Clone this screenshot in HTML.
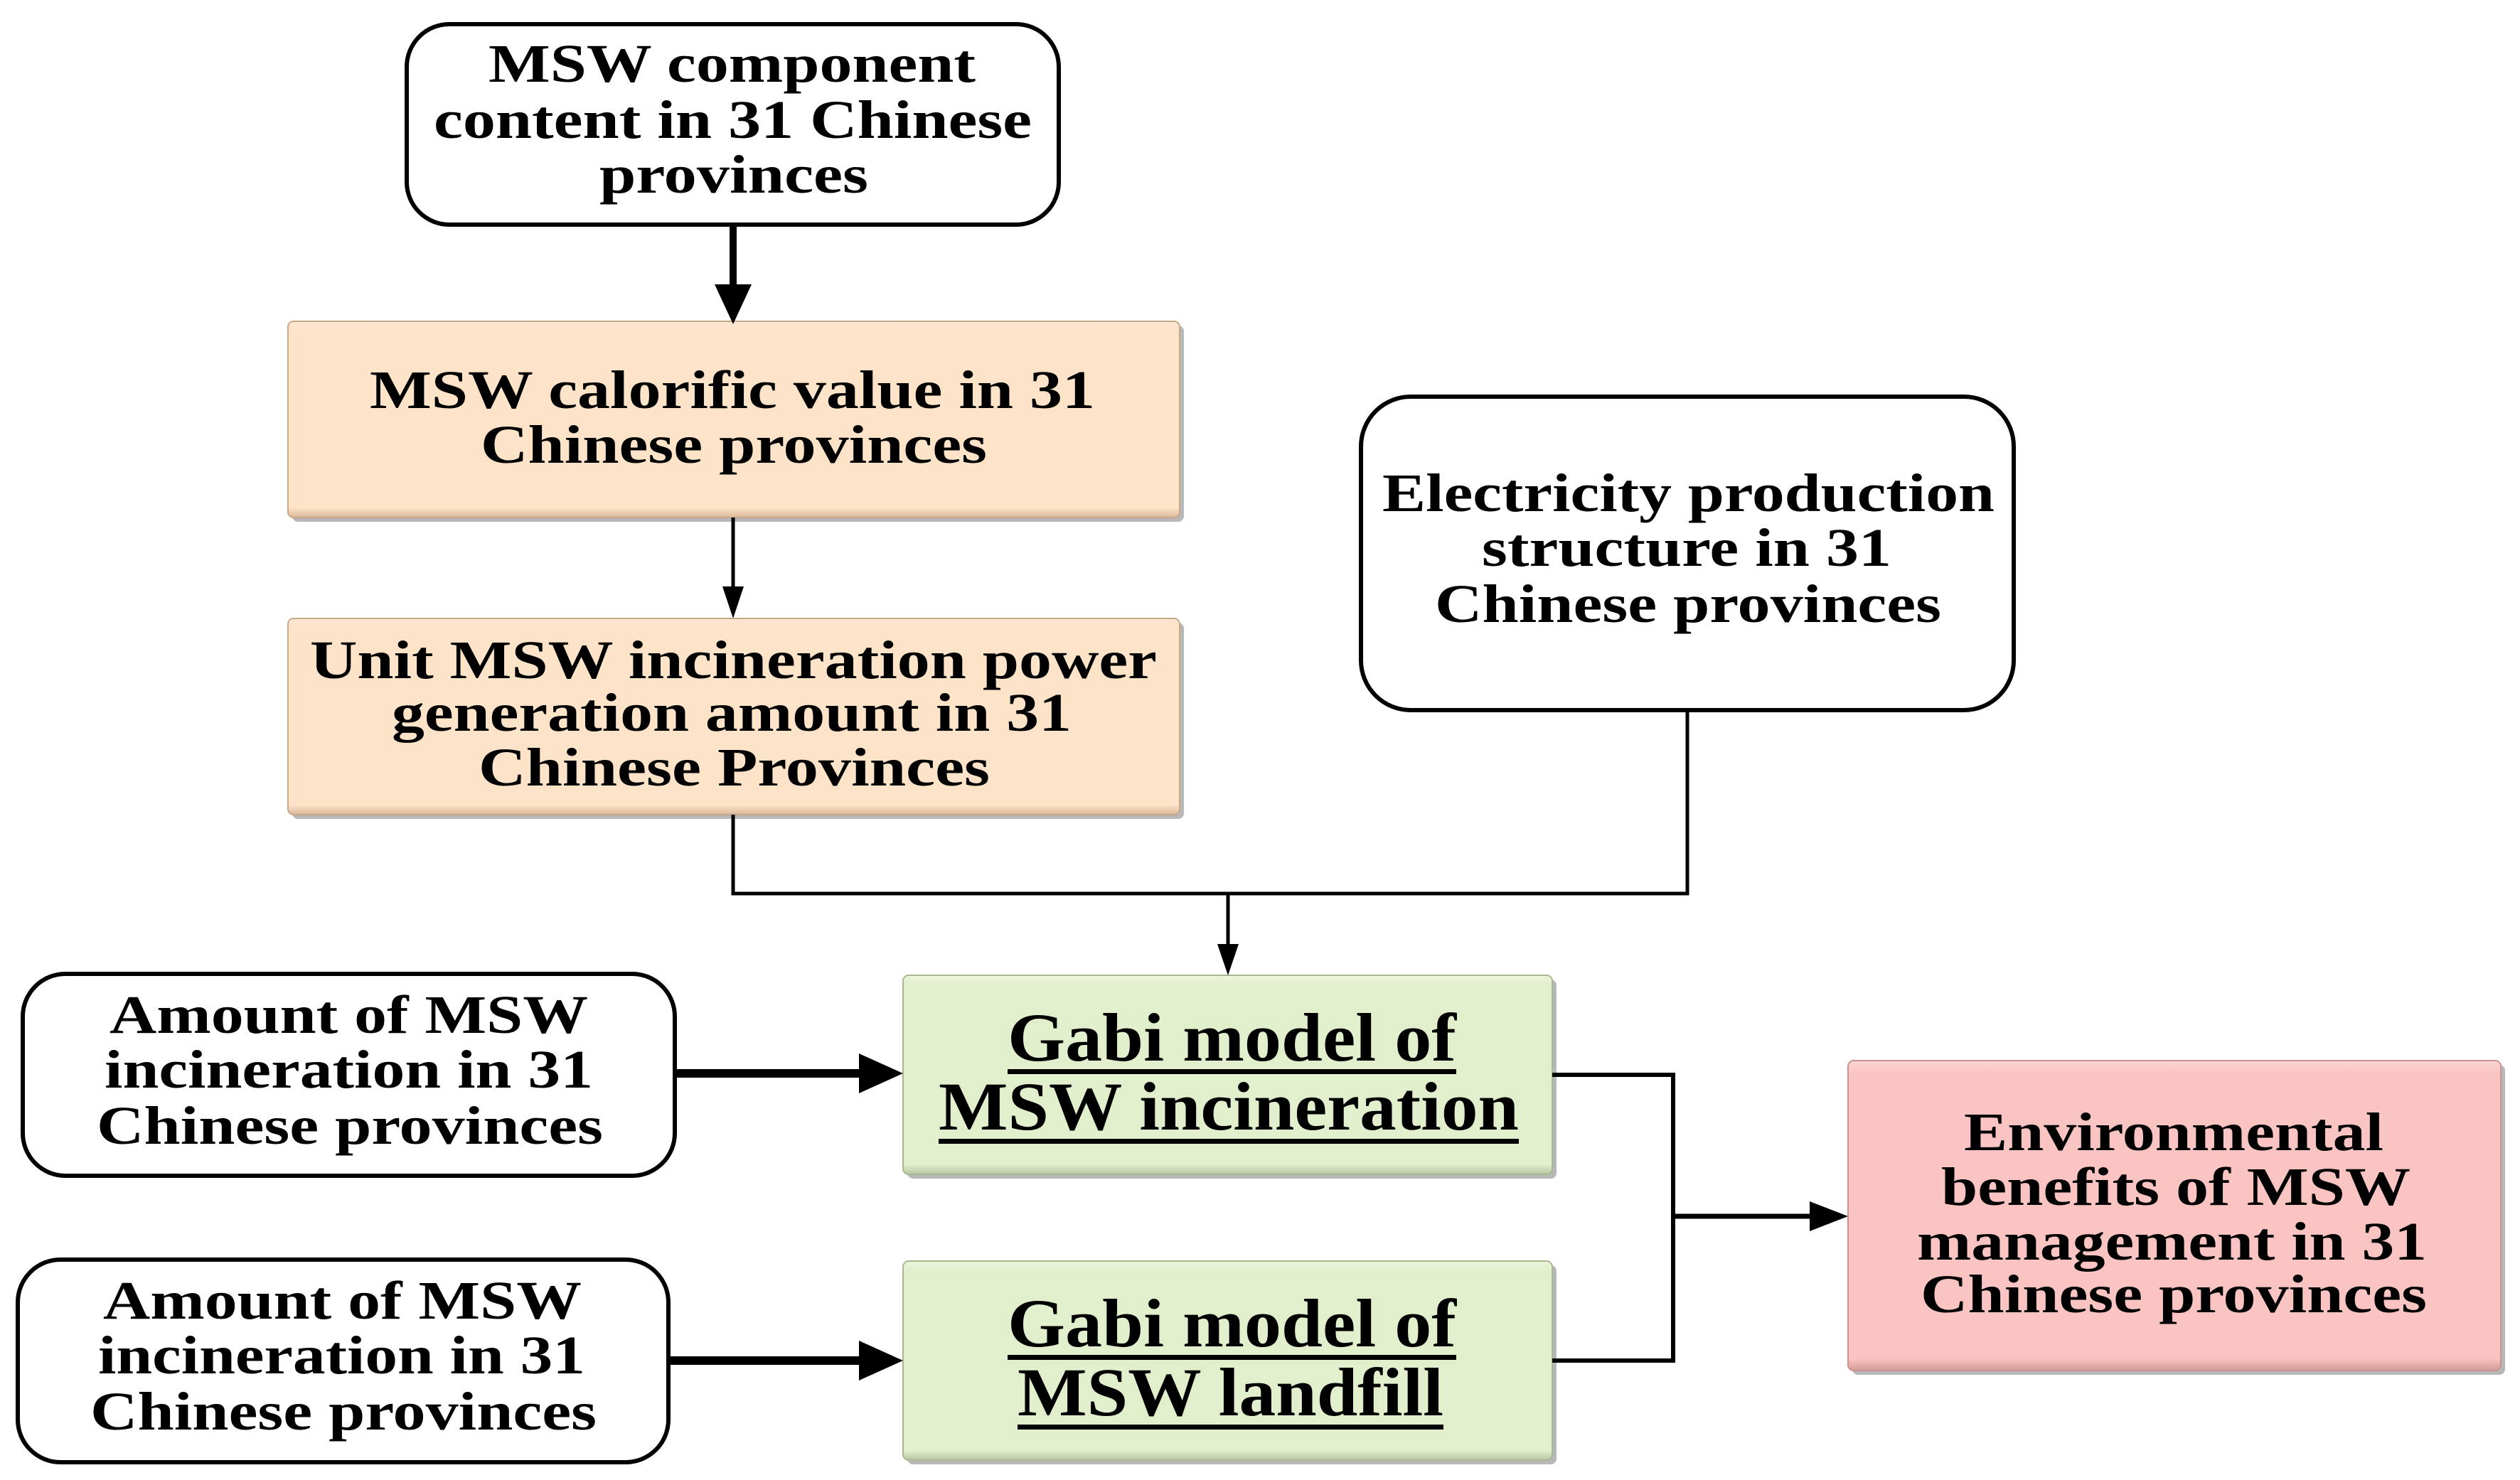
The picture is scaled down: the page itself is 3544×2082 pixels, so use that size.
<!DOCTYPE html>
<html><head><meta charset="utf-8"><style>html,body{margin:0;padding:0;background:#fff}svg{display:block}</style></head>
<body>
<svg width="3544" height="2082" viewBox="0 0 3544 2082" xmlns="http://www.w3.org/2000/svg" font-family="'Liberation Serif', serif" font-weight="bold">
<defs>
<linearGradient id="pe" x1="0" y1="0" x2="0" y2="1"><stop offset="0" stop-color="#fbe6d2"/><stop offset="0.05" stop-color="#fde3c8"/><stop offset="0.95" stop-color="#fde3c8"/><stop offset="1" stop-color="#d9b89a"/></linearGradient>
<linearGradient id="gr" x1="0" y1="0" x2="0" y2="1"><stop offset="0" stop-color="#eef5e0"/><stop offset="0.05" stop-color="#e2efcc"/><stop offset="0.95" stop-color="#e2efcc"/><stop offset="1" stop-color="#b8c7a2"/></linearGradient>
<linearGradient id="pk" x1="0" y1="0" x2="0" y2="1"><stop offset="0" stop-color="#fbd6d4"/><stop offset="0.04" stop-color="#f9c4c1"/><stop offset="0.96" stop-color="#f9c4c1"/><stop offset="1" stop-color="#d49c99"/></linearGradient>
</defs>
<g fill="#888" opacity="0.6">
<rect x="411" y="458" width="1254" height="276" rx="8"/>
<rect x="411" y="876" width="1254" height="276" rx="8"/>
<rect x="1276" y="1378" width="913" height="280" rx="8"/>
<rect x="1276" y="1780" width="913" height="280" rx="8"/>
<rect x="2605" y="1498" width="918" height="436" rx="8"/>
</g>
<rect x="405" y="452" width="1254" height="276" rx="8" fill="url(#pe)" stroke="#c9a88a" stroke-width="2"/>
<rect x="405" y="870" width="1254" height="276" rx="8" fill="url(#pe)" stroke="#c9a88a" stroke-width="2"/>
<rect x="1270" y="1372" width="913" height="280" rx="8" fill="url(#gr)" stroke="#a9b98f" stroke-width="2"/>
<rect x="1270" y="1774" width="913" height="280" rx="8" fill="url(#gr)" stroke="#a9b98f" stroke-width="2"/>
<rect x="2599" y="1492" width="918" height="436" rx="8" fill="url(#pk)" stroke="#c89390" stroke-width="2"/>
<g fill="#fff" stroke="#000" stroke-width="6">
<rect x="572" y="34" width="917" height="282" rx="60"/>
<rect x="1914" y="558" width="918" height="441" rx="70"/>
<rect x="32" y="1370" width="917" height="284" rx="60"/>
<rect x="25" y="1772" width="915" height="285" rx="60"/>
</g>
<g stroke="#000" fill="none">
<line x1="1031" y1="316" x2="1031" y2="410" stroke-width="10"/>
<line x1="1031" y1="728" x2="1031" y2="830" stroke-width="5"/>
<polyline points="1031,1146 1031,1257 2373,1257 2373,999" stroke-width="5"/>
<line x1="1727" y1="1257" x2="1727" y2="1335" stroke-width="5"/>
<line x1="949" y1="1510" x2="1220" y2="1510" stroke-width="12"/>
<line x1="940" y1="1914" x2="1220" y2="1914" stroke-width="12"/>
<polyline points="2183,1512 2353,1512 2353,1914 2183,1914" stroke-width="6"/>
<line x1="2353" y1="1711" x2="2555" y2="1711" stroke-width="7"/>
</g>
<g fill="#000">
<polygon points="1005,400 1057,400 1031,456"/>
<polygon points="1016,825 1046,825 1031,870"/>
<polygon points="1712,1328 1742,1328 1727,1372"/>
<polygon points="1208,1482 1270,1510 1208,1538"/>
<polygon points="1208,1886 1270,1914 1208,1942"/>
<polygon points="2545,1690 2599,1711 2545,1732"/>
</g>
<g font-size="76" fill="#000" lengthAdjust="spacingAndGlyphs">
<text x="687" y="115" textLength="685" lengthAdjust="spacingAndGlyphs">MSW component</text>
<text x="610" y="194" textLength="841" lengthAdjust="spacingAndGlyphs">content in 31 Chinese</text>
<text x="843" y="271" textLength="378" lengthAdjust="spacingAndGlyphs">provinces</text>
<text x="520" y="574" textLength="1020" lengthAdjust="spacingAndGlyphs">MSW calorific value in 31</text>
<text x="676" y="651" textLength="712" lengthAdjust="spacingAndGlyphs">Chinese provinces</text>
<text x="436" y="954" textLength="1191" lengthAdjust="spacingAndGlyphs">Unit MSW incineration power</text>
<text x="551" y="1028" textLength="956" lengthAdjust="spacingAndGlyphs">generation amount in 31</text>
<text x="673" y="1105" textLength="719" lengthAdjust="spacingAndGlyphs">Chinese Provinces</text>
<text x="1944" y="719" textLength="861" lengthAdjust="spacingAndGlyphs">Electricity production</text>
<text x="2084" y="796" textLength="576" lengthAdjust="spacingAndGlyphs">structure in 31</text>
<text x="2018" y="875" textLength="712" lengthAdjust="spacingAndGlyphs">Chinese provinces</text>
<text x="154" y="1453" textLength="673" lengthAdjust="spacingAndGlyphs">Amount of MSW</text>
<text x="147" y="1530" textLength="687" lengthAdjust="spacingAndGlyphs">incineration in 31</text>
<text x="136" y="1609" textLength="712" lengthAdjust="spacingAndGlyphs">Chinese provinces</text>
<text x="145" y="1855" textLength="673" lengthAdjust="spacingAndGlyphs">Amount of MSW</text>
<text x="138" y="1932" textLength="685" lengthAdjust="spacingAndGlyphs">incineration in 31</text>
<text x="127" y="2011" textLength="712" lengthAdjust="spacingAndGlyphs">Chinese provinces</text>
<text x="2762" y="1618" textLength="590" lengthAdjust="spacingAndGlyphs">Environmental</text>
<text x="2730" y="1695" textLength="660" lengthAdjust="spacingAndGlyphs">benefits of MSW</text>
<text x="2696" y="1772" textLength="717" lengthAdjust="spacingAndGlyphs">management in 31</text>
<text x="2701" y="1846" textLength="712" lengthAdjust="spacingAndGlyphs">Chinese provinces</text>
</g>
<g font-size="96" fill="#000">
<text x="1417" y="1492" textLength="631" lengthAdjust="spacingAndGlyphs">Gabi model of</text>
<text x="1320" y="1589" textLength="816" lengthAdjust="spacingAndGlyphs">MSW incineration</text>
<text x="1417" y="1894" textLength="631" lengthAdjust="spacingAndGlyphs">Gabi model of</text>
<text x="1431" y="1991" textLength="599" lengthAdjust="spacingAndGlyphs">MSW landfill</text>
</g>
<g fill="#000">
<rect x="1417" y="1504" width="631" height="7"/>
<rect x="1320" y="1602" width="816" height="7"/>
<rect x="1417" y="1906" width="631" height="7"/>
<rect x="1431" y="2004" width="599" height="7"/>
</g>
</svg>
</body></html>
